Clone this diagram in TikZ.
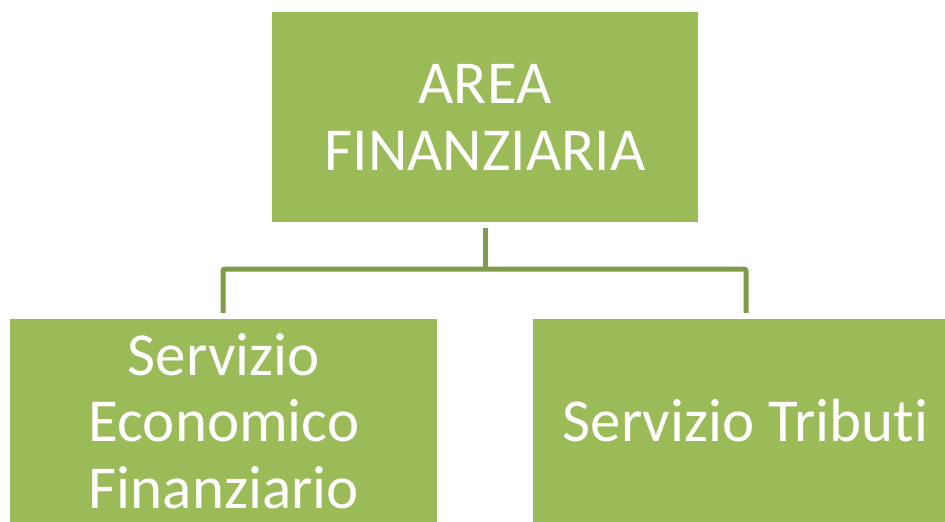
\documentclass[tikz,border=0pt]{standalone}
\usepackage{fontspec}
\setmainfont{Carlito}[RawFeature={-liga}]
\definecolor{boxgreen}{HTML}{9BBB59}
\definecolor{linegreen}{HTML}{7F9A48}
\tikzset{
  orgbox/.style={rectangle, fill=boxgreen, text=white, align=center,
    inner sep=0pt},
  boxtext/.style={text=white, align=center, inner sep=0pt,
    font=\fontsize{61}{66.5}\selectfont},
  link/.style={draw=linegreen, line width=5pt, rounded corners=2pt}
}
\begin{document}
\begin{tikzpicture}[x=1pt, y=-1pt]
        \useasboundingbox (0, 0) rectangle (945, 522);

        % Draw the boxes of the chart
        \node[orgbox, minimum width=426pt, minimum height=210pt] (area) at (485, 117) {};
        \node[boxtext, anchor=base] (areatext) at (485, 170) {AREA\\FINANZIARIA};
        \node[orgbox, minimum width=427pt, minimum height=203pt] (sef) at (223.5, 420.5) {};
        \node[boxtext, anchor=base] (seftext) at (224, 508) {Servizio\\Economico\\Finanziario};
        \node[orgbox, minimum width=412pt, minimum height=203pt] (trib) at (739, 420.5) {};
        \node[boxtext, anchor=base] (tribtext) at (745.5, 441) {Servizio Tributi};

        % Draw the connectors between the boxes
        \coordinate (busL) at (223, 269);
        \coordinate (busR) at (746, 269);
        \draw[link] ([yshift=-6pt]area.south) -- (area.south |- busL);
        \draw[link] ([yshift=6pt]sef.north -| busL) -- (busL) -- (busR) -- ([yshift=6pt]trib.north -| busR);
\end{tikzpicture}
\end{document}
